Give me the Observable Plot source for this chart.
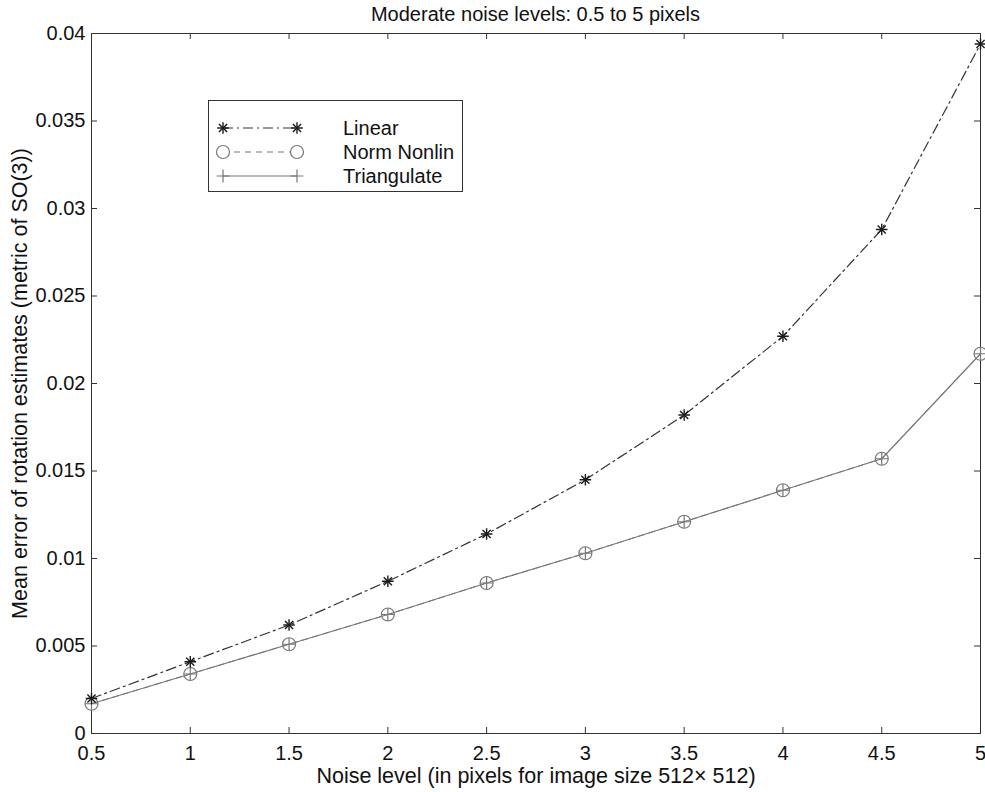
<!DOCTYPE html>
<html><head><meta charset="utf-8">
<script src="https://cdn.jsdelivr.net/npm/d3@7"></script>
<script src="https://cdn.jsdelivr.net/npm/@observablehq/plot@0.6"></script>
<style>
body{margin:0;background:#fff;font-family:"Liberation Sans",Arial,sans-serif;}
#wrap{position:relative;width:985px;height:792px;overflow:hidden;}
#title{position:absolute;left:91px;width:889px;top:4px;line-height:20px;text-align:center;font-size:20px;color:#111;}
#legend{position:absolute;left:208px;top:100px;}
g[aria-label="x-axis label"], g[aria-label="y-axis label"]{font-size:21.5px !important;}
</style></head>
<body><div id="wrap"><div id="chart"></div><div id="title"></div><div id="legend"></div></div>
<script>
// ---- data ----
const xs = [0.5, 1, 1.5, 2, 2.5, 3, 3.5, 4, 4.5, 5];
const linear = [0.0020, 0.0041, 0.0062, 0.0087, 0.0114, 0.0145, 0.0182, 0.0227, 0.0288, 0.0394];
const normNonlin = [0.0017, 0.0034, 0.0051, 0.0068, 0.0086, 0.0103, 0.0121, 0.0139, 0.0157, 0.0217];
const triangulate = [0.0017, 0.0034, 0.0051, 0.0068, 0.0086, 0.0103, 0.0121, 0.0139, 0.0157, 0.0217];
const xTicks = [0.5, 1, 1.5, 2, 2.5, 3, 3.5, 4, 4.5, 5];
const xTickLabels = ["0.5", "1", "1.5", "2", "2.5", "3", "3.5", "4", "4.5", "5"];
const yTicks = [0, 0.005, 0.01, 0.015, 0.02, 0.025, 0.03, 0.035, 0.04];
const yTickLabels = ["0", "0.005", "0.01", "0.015", "0.02", "0.025", "0.03", "0.035", "0.04"];
const seriesNames = ["Linear", "Norm Nonlin", "Triangulate"];
const titleText = "Moderate noise levels: 0.5 to 5 pixels";
const xLabel = "Noise level (in pixels for image size 512\u00d7 512)";
const yLabel = "Mean error of rotation estimates (metric of SO(3))";

const rows = xs.map((x, i) => ({x, linear: linear[i], norm: normNonlin[i], tri: triangulate[i]}));

const W = 985, H = 792, mL = 91, mR = 5, mT = 33, mB = 59;
const plotW = W - mL - mR, plotH = H - mT - mB, tick = 6;
const grey = "#777", dark = "#1a1a1a";

const chart = Plot.plot({
  width: W, height: H,
  marginLeft: mL, marginRight: mR, marginTop: mT, marginBottom: mB,
  style: {fontFamily: "Liberation Sans, Arial, sans-serif", fontSize: "20px", color: "#111", background: "#fff"},
  x: {domain: [0.5, 5]},
  y: {domain: [0, 0.04]},
  marks: [
    Plot.tickX(xTicks, {x: d => d, insetTop: plotH - tick, stroke: "#333"}),
    Plot.tickX(xTicks, {x: d => d, insetBottom: plotH - tick, stroke: "#333"}),
    Plot.tickY(yTicks, {y: d => d, insetRight: plotW - tick, stroke: "#333"}),
    Plot.tickY(yTicks, {y: d => d, insetLeft: plotW - tick, stroke: "#333"}),
    Plot.axisX(xTicks, {tickSize: 0, tickPadding: 12, tickFormat: d => xTickLabels[xTicks.indexOf(d)],
      label: xLabel, labelAnchor: "center", labelArrow: "none", labelOffset: 49}),
    Plot.axisY(yTicks, {tickSize: 0, tickPadding: 6, tickFormat: d => yTickLabels[yTicks.indexOf(d)],
      label: yLabel, labelAnchor: "center", labelArrow: "none", labelOffset: 80}),
    Plot.frame({stroke: "#333"}),
    Plot.line(rows, {x: "x", y: "norm", stroke: grey, strokeWidth: 1, strokeDasharray: "6,5"}),
    Plot.line(rows, {x: "x", y: "tri", stroke: grey, strokeWidth: 1.2}),
    Plot.line(rows, {x: "x", y: "linear", stroke: "#333", strokeWidth: 1.2, strokeDasharray: "10,4,2,4"}),
    Plot.dot(rows, {x: "x", y: "norm", r: 6.5, stroke: grey, fill: "none", strokeWidth: 1.2}),
    Plot.dot(rows, {x: "x", y: "tri", symbol: "plus", r: 4.2, stroke: grey, strokeWidth: 1.2}),
    Plot.dot(rows, {x: "x", y: "linear", symbol: "plus", r: 3.8, stroke: dark, strokeWidth: 1.4}),
    Plot.dot(rows, {x: "x", y: "linear", symbol: "times", r: 3.8, stroke: dark, strokeWidth: 1.4})
  ]
});
document.getElementById("chart").append(chart);
document.getElementById("title").textContent = titleText;

// ---- legend ----
const legW = 255, legH = 92;
const leg = d3.select("#legend").append("svg").attr("width", legW).attr("height", legH)
  .style("font-family", "Liberation Sans, Arial, sans-serif").style("font-size", "20px");
leg.append("rect").attr("x", 0.5).attr("y", 0.5).attr("width", legW - 1).attr("height", legH - 1)
  .attr("fill", "#fff").attr("stroke", "#333");
const styles = [
  {stroke: "#333", dash: "10,4,2,4", sym: ["plus", "times"], r: 3.8, mstroke: dark, sw: 1.4},
  {stroke: grey, dash: "6,5", sym: ["circle"], r: 6.5, mstroke: grey, sw: 1.2},
  {stroke: grey, dash: null, sym: ["plus"], r: 4.2, mstroke: grey, sw: 1.2}
];
const symMap = {plus: d3.symbolPlus, times: d3.symbolTimes, circle: d3.symbolCircle};
seriesNames.forEach((name, i) => {
  const s = styles[i], yy = 28 + i * 24, x0 = 15, x1 = 89;
  leg.append("line").attr("x1", x0).attr("x2", x1).attr("y1", yy).attr("y2", yy)
    .attr("stroke", s.stroke).attr("stroke-width", 1.2).attr("stroke-dasharray", s.dash);
  [x0, x1].forEach(xx => s.sym.forEach(k => {
    leg.append("path").attr("d", d3.symbol(symMap[k], Math.PI * s.r * s.r)())
      .attr("transform", `translate(${xx},${yy})`).attr("fill", k === "circle" ? "#fff" : "none")
      .attr("stroke", s.mstroke).attr("stroke-width", s.sw);
  }));
  leg.append("text").attr("x", 135).attr("y", yy).attr("dy", "0.35em").attr("fill", "#111").text(name);
});
</script>
</body></html>
